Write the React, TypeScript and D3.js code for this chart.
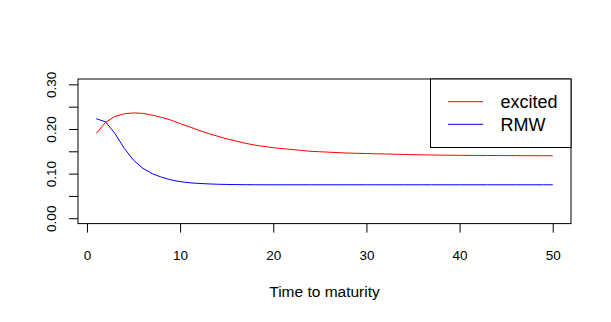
import * as d3 from 'd3';
import React, { useEffect, useRef } from 'react';

// time to maturity (x)
const maturity = [
  1, 2, 3, 4, 5, 6, 7, 8, 9, 10, 11, 12, 13, 14, 15, 16, 17, 18, 19, 20, 21, 22, 23, 24, 25,
  26, 27, 28, 29, 30, 31, 32, 33, 34, 35, 36, 37, 38, 39, 40, 41, 42, 43, 44, 45, 46, 47, 48, 49, 50,
];

// series
const excited = [
  0.19, 0.215, 0.228, 0.234, 0.236, 0.235, 0.231, 0.226, 0.22, 0.212, 0.205, 0.197, 0.19, 0.184,
  0.178, 0.173, 0.168, 0.164, 0.161, 0.158, 0.156, 0.154, 0.152, 0.15, 0.149, 0.148, 0.147, 0.146,
  0.1455, 0.145, 0.1445, 0.144, 0.1435, 0.143, 0.1425, 0.142, 0.1417, 0.1414, 0.1412, 0.141,
  0.1408, 0.1407, 0.1406, 0.1405, 0.1404, 0.1403, 0.1402, 0.1401, 0.14, 0.14,
];
const rmw = [
  0.223, 0.216, 0.19, 0.157, 0.13, 0.112, 0.1, 0.092, 0.086, 0.082, 0.0795, 0.078, 0.077, 0.0762,
  0.0757, 0.0754, 0.0752, 0.0751, 0.075, 0.075, 0.075, 0.075, 0.075, 0.075, 0.075, 0.075, 0.075,
  0.075, 0.075, 0.075, 0.075, 0.075, 0.075, 0.075, 0.075, 0.075, 0.075, 0.075, 0.075, 0.075,
  0.075, 0.075, 0.075, 0.075, 0.075, 0.075, 0.075, 0.075, 0.075, 0.075,
];

const seriesNames = ['excited', 'RMW'];
const seriesColors = ['#ff0000', '#0000ff'];

const xTicks = [0, 10, 20, 30, 40, 50];
const yTicks = [0, 0.05, 0.1, 0.15, 0.2, 0.25, 0.3];
const yLabelled = [0, 0.1, 0.2, 0.3];

const xTitle = 'Time to maturity';

const FONT = '"Liberation Sans", Arial, Helvetica, sans-serif';

const App = () => {
  const svgRef = useRef<SVGSVGElement>(null);
  const width = 611;
  const height = 322;
  const plot = { left: 78, right: 571, top: 79, bottom: 223.6 };

  useEffect(() => {
    const svg = d3.select(svgRef.current);
    svg.selectAll('*').remove();

    // R style 4% axis extension
    const xPad = (d3.max(maturity)! - d3.min(maturity)!) * 0.04;
    const xScale = d3
      .scaleLinear()
      .domain([d3.min(maturity)! - xPad, d3.max(maturity)! + xPad])
      .range([plot.left, plot.right]);
    const yScale = d3
      .scaleLinear()
      .domain([-0.012, 0.312])
      .range([plot.bottom, plot.top]);

    // x axis
    const gx = svg
      .append('g')
      .attr('transform', `translate(0, ${plot.bottom})`)
      .call(d3.axisBottom(xScale).tickValues(xTicks).tickSize(9).tickFormat(d3.format('d')));
    gx.select('.domain').remove();
    gx.selectAll('line').attr('stroke', '#000');
    gx.selectAll('text')
      .attr('y', 36)
      .attr('dy', null)
      .style('font-family', FONT)
      .style('font-size', '13.5px')
      .attr('fill', '#000');

    // y axis, only every other tick labelled
    const gy = svg
      .append('g')
      .attr('transform', `translate(${plot.left}, 0)`)
      .call(
        d3
          .axisLeft(yScale)
          .tickValues(yTicks)
          .tickSize(9)
          .tickFormat((d) => (yLabelled.some((v) => Math.abs(v - +d) < 1e-9) ? d3.format('.2f')(+d) : ''))
      );
    gy.select('.domain').remove();
    gy.selectAll('line').attr('stroke', '#000');
    gy.selectAll<SVGTextElement, number>('text')
      .attr('x', null)
      .attr('dy', null)
      .attr('y', 0)
      .attr('transform', `translate(${56 - plot.left}, 0) rotate(-90)`)
      .attr('text-anchor', 'middle')
      .style('font-family', FONT)
      .style('font-size', '13.5px')
      .attr('fill', '#000');

    // plot box
    svg
      .append('rect')
      .attr('x', plot.left)
      .attr('y', plot.top)
      .attr('width', plot.right - plot.left)
      .attr('height', plot.bottom - plot.top)
      .attr('fill', 'none')
      .attr('stroke', '#000');

    // lines
    const line = d3
      .line<number>()
      .x((_, i) => xScale(maturity[i]))
      .y((d) => yScale(d));
    [excited, rmw].forEach((s, i) => {
      svg
        .append('path')
        .datum(s)
        .attr('d', line)
        .attr('fill', 'none')
        .attr('stroke', seriesColors[i])
        .attr('stroke-width', 1);
    });

    // legend
    const lg = svg.append('g');
    lg.append('rect')
      .attr('x', 430.5)
      .attr('y', plot.top)
      .attr('width', plot.right - 430.5)
      .attr('height', 68.5)
      .attr('fill', '#fff')
      .attr('stroke', '#000');
    seriesNames.forEach((name, i) => {
      const y = 101.7 + i * 22.6;
      lg.append('line')
        .attr('x1', 448)
        .attr('x2', 483)
        .attr('y1', y)
        .attr('y2', y)
        .attr('stroke', seriesColors[i]);
      lg.append('text')
        .attr('x', 500.5)
        .attr('y', y + 6.5)
        .style('font-family', FONT)
        .style('font-size', '18px')
        .attr('fill', '#000')
        .text(name);
    });

    // axis title
    svg
      .append('text')
      .attr('x', (plot.left + plot.right) / 2)
      .attr('y', 297)
      .attr('text-anchor', 'middle')
      .style('font-family', FONT)
      .style('font-size', '15.5px')
      .attr('fill', '#000')
      .text(xTitle);
  }, []);

  return (
    <svg
      ref={svgRef}
      width={width}
      height={height}
      style={{ position: 'absolute', left: 0, top: 0, background: '#fff' }}
    ></svg>
  );
};

export default App;
